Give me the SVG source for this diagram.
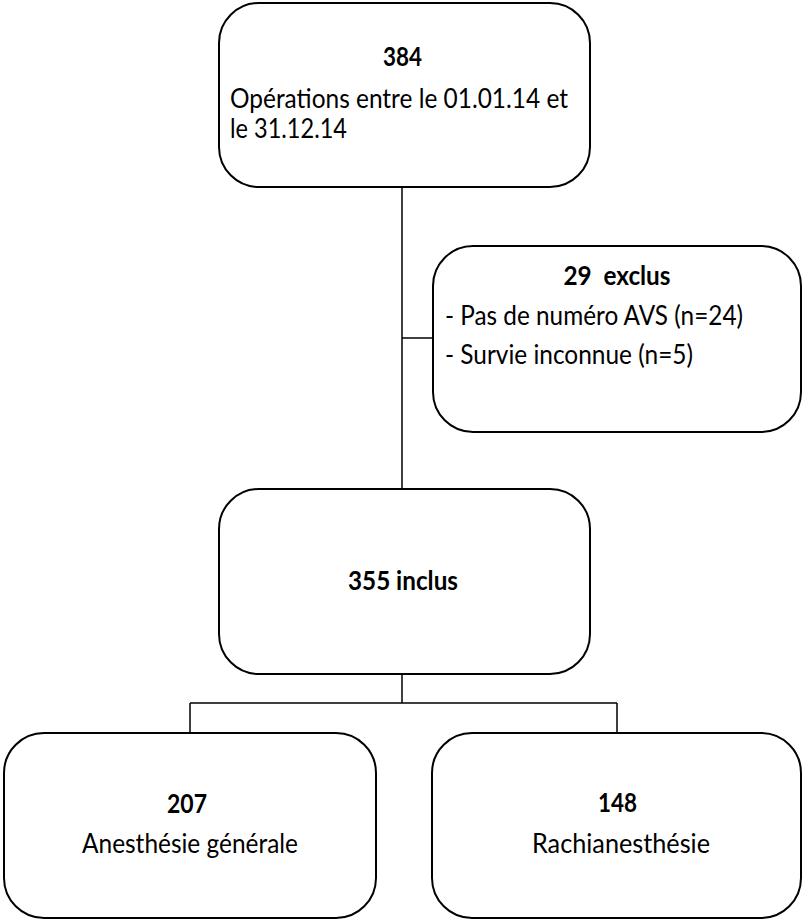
<svg xmlns="http://www.w3.org/2000/svg" width="802" height="920" viewBox="0 0 802 920">
  <style>
    .box { fill: #ffffff; stroke: #000000; stroke-width: 2; }
    .conn { stroke: #000000; stroke-width: 1.5; fill: none; }
    text { font-family: Lato, "Open Sans", "Liberation Sans", sans-serif; font-size: 26px; fill: #000000; }
    .b { font-weight: bold; }
    .c { text-anchor: middle; }
  </style>
  <rect width="802" height="920" fill="#ffffff"/>
  <g id="connectors">
    <line class="conn" x1="402" y1="187" x2="402" y2="489"/>
    <line class="conn" x1="402" y1="338" x2="433" y2="338"/>
    <line class="conn" x1="402" y1="674" x2="402" y2="703"/>
    <line class="conn" x1="190" y1="703" x2="617" y2="703"/>
    <line class="conn" x1="190" y1="703" x2="190" y2="733"/>
    <line class="conn" x1="617" y1="703" x2="617" y2="733"/>
  </g>
  <g id="node-384">
    <rect class="box" x="219" y="3" width="371" height="184" rx="40" ry="40"/>
    <text class="b c" x="402.5" y="66" textLength="39" lengthAdjust="spacingAndGlyphs">384</text>
    <text x="230" y="108" textLength="338" lengthAdjust="spacingAndGlyphs">Opérations entre le 01.01.14 et</text>
    <text x="230" y="138" textLength="117" lengthAdjust="spacingAndGlyphs">le 31.12.14</text>
  </g>
  <g id="node-exclus">
    <rect class="box" x="433" y="246" width="368" height="186" rx="40" ry="40"/>
    <text class="b c" x="617" y="285" textLength="107" lengthAdjust="spacingAndGlyphs" xml:space="preserve">29  exclus</text>
    <text x="445" y="325" textLength="298" lengthAdjust="spacingAndGlyphs">- Pas de numéro AVS (n=24)</text>
    <text x="445" y="364" textLength="248" lengthAdjust="spacingAndGlyphs">- Survie inconnue (n=5)</text>
  </g>
  <g id="node-inclus">
    <rect class="box" x="219" y="489" width="371" height="185" rx="40" ry="40"/>
    <text class="b c" x="403" y="590" textLength="110" lengthAdjust="spacingAndGlyphs">355 inclus</text>
  </g>
  <g id="node-ag">
    <rect class="box" x="4" y="733" width="372" height="185" rx="40" ry="40"/>
    <text class="b c" x="187" y="813" textLength="40" lengthAdjust="spacingAndGlyphs">207</text>
    <text class="c" x="190" y="853" textLength="216" lengthAdjust="spacingAndGlyphs">Anesthésie générale</text>
  </g>
  <g id="node-ra">
    <rect class="box" x="432" y="733" width="369" height="185" rx="40" ry="40"/>
    <text class="b c" x="617.5" y="812" textLength="39" lengthAdjust="spacingAndGlyphs">148</text>
    <text class="c" x="621" y="853" textLength="178" lengthAdjust="spacingAndGlyphs">Rachianesthésie</text>
  </g>
</svg>
